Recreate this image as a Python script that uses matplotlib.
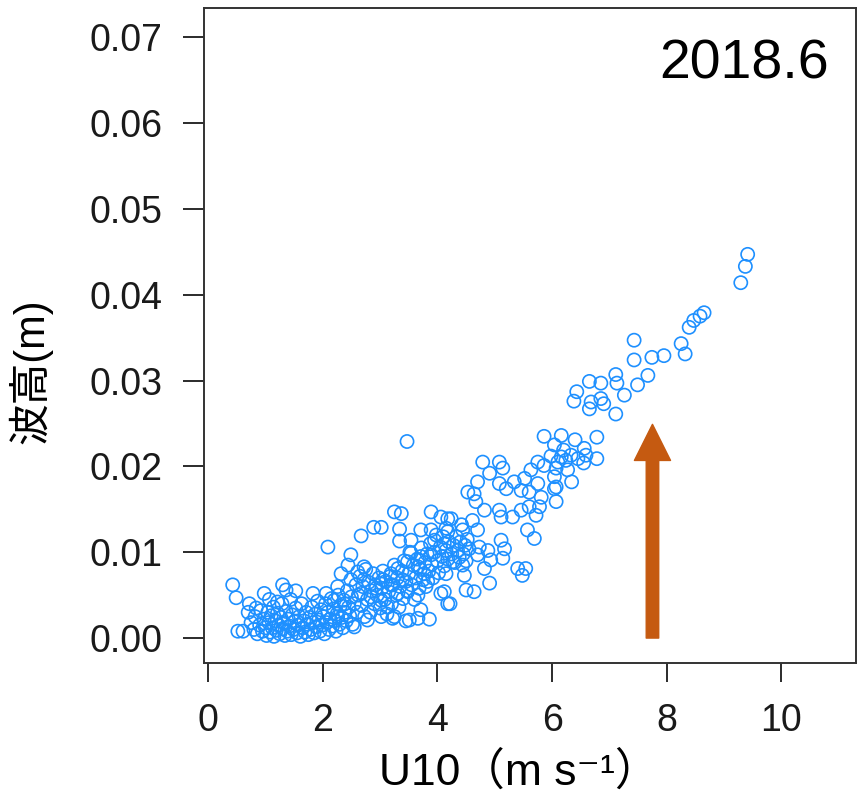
import matplotlib
matplotlib.use("Agg")
import matplotlib.pyplot as plt
import numpy as np

plt.rcParams['font.family'] = ['Liberation Sans', 'Noto Sans CJK JP', 'DejaVu Sans']

# (U10, wave height) pairs
pts_low = [
    (0.43, 0.0062), (0.49, 0.0047), (0.52, 0.0008), (0.61, 0.0008), (0.70, 0.0030),
    (0.72, 0.0040), (0.75, 0.0018), (0.80, 0.0010), (0.82, 0.0025), (0.84, 0.0035),
    (0.86, 0.0005), (0.90, 0.0015), (0.92, 0.0032), (0.95, 0.0008), (0.98, 0.0052),
    (0.98, 0.0022), (1.00, 0.0012), (1.02, 0.0003), (1.04, 0.0030), (1.06, 0.0018),
    (1.07, 0.0045), (1.08, 0.0007), (1.10, 0.0026), (1.12, 0.0012), (1.14, 0.0036),
    (1.15, 0.0002), (1.17, 0.0020), (1.19, 0.0009), (1.21, 0.0042), (1.21, 0.0029),
    (1.23, 0.0015), (1.25, 0.0005), (1.27, 0.0024), (1.29, 0.0040), (1.30, 0.0062),
    (1.30, 0.0011), (1.32, 0.0018), (1.34, 0.0003), (1.36, 0.0056), (1.36, 0.0031),
    (1.38, 0.0008), (1.40, 0.0022), (1.42, 0.0014), (1.44, 0.0045), (1.45, 0.0004),
    (1.47, 0.0027), (1.49, 0.0010), (1.51, 0.0019), (1.53, 0.0055), (1.53, 0.0035),
    (1.55, 0.0006), (1.57, 0.0015), (1.59, 0.0025), (1.61, 0.0002), (1.63, 0.0040),
    (1.65, 0.0012), (1.67, 0.0020), (1.69, 0.0007), (1.71, 0.0030), (1.73, 0.0016),
    (1.75, 0.0004), (1.77, 0.0024), (1.79, 0.0010), (1.81, 0.0036), (1.83, 0.0052),
    (1.83, 0.0018), (1.85, 0.0006), (1.87, 0.0028), (1.89, 0.0013), (1.91, 0.0043),
    (1.93, 0.0021), (1.95, 0.0008), (1.97, 0.0033), (1.99, 0.0015), (2.01, 0.0025),
    (2.03, 0.0005), (2.05, 0.0040), (2.06, 0.0052), (2.07, 0.0018), (2.09, 0.0106),
    (2.09, 0.0030), (2.11, 0.0010), (2.13, 0.0022), (2.15, 0.0046), (2.17, 0.0014),
    (2.19, 0.0034), (2.20, 0.0044), (2.21, 0.0020), (2.23, 0.0008), (2.25, 0.0028),
    (2.26, 0.0060), (2.26, 0.0025), (2.27, 0.0050), (2.29, 0.0016), (2.31, 0.0038),
    (2.32, 0.0075), (2.33, 0.0024), (2.35, 0.0012), (2.37, 0.0044), (2.38, 0.0040),
    (2.39, 0.0030), (2.41, 0.0020), (2.43, 0.0055), (2.44, 0.0085), (2.45, 0.0036),
    (2.47, 0.0026), (2.49, 0.0097), (2.49, 0.0068), (2.50, 0.0048), (2.52, 0.0016),
    (2.55, 0.0013), (2.55, 0.0040), (2.58, 0.0062), (2.60, 0.0030),
]

pts_mid = [
    (2.61, 0.0077), (2.62, 0.0050), (2.65, 0.0072), (2.67, 0.0119), (2.67, 0.0052),
    (2.68, 0.0038), (2.70, 0.0060), (2.72, 0.0083), (2.72, 0.0068), (2.73, 0.0025),
    (2.75, 0.0080), (2.78, 0.0021), (2.78, 0.0045), (2.80, 0.0065), (2.83, 0.0030),
    (2.84, 0.0048), (2.85, 0.0055), (2.89, 0.0129), (2.88, 0.0075), (2.90, 0.0040),
    (2.92, 0.0062), (2.93, 0.0058), (2.95, 0.0050), (2.98, 0.0070), (3.00, 0.0035),
    (3.02, 0.0129), (3.02, 0.0044), (3.02, 0.0025), (3.03, 0.0058), (3.05, 0.0068),
    (3.05, 0.0078), (3.08, 0.0045), (3.10, 0.0066), (3.12, 0.0028), (3.13, 0.0036),
    (3.15, 0.0054), (3.18, 0.0072), (3.19, 0.0075), (3.19, 0.0062), (3.20, 0.0040),
    (3.22, 0.0023), (3.22, 0.0062), (3.25, 0.0085), (3.25, 0.0147), (3.25, 0.0025),
    (3.28, 0.0050), (3.30, 0.0070), (3.31, 0.0081), (3.31, 0.0052), (3.33, 0.0036),
    (3.34, 0.0127), (3.34, 0.0113), (3.35, 0.0060), (3.37, 0.0145), (3.38, 0.0078),
    (3.39, 0.0068), (3.40, 0.0046), (3.42, 0.0090), (3.45, 0.0066), (3.45, 0.0020),
    (3.47, 0.0229), (3.48, 0.0055), (3.48, 0.0089), (3.48, 0.0054), (3.50, 0.0075),
    (3.51, 0.0021), (3.52, 0.0100), (3.54, 0.0114), (3.54, 0.0099), (3.55, 0.0062),
    (3.58, 0.0085), (3.60, 0.0045), (3.62, 0.0070), (3.65, 0.0092), (3.66, 0.0083),
    (3.66, 0.0050), (3.66, 0.0023), (3.68, 0.0058), (3.70, 0.0080), (3.71, 0.0126),
    (3.71, 0.0095), (3.71, 0.0033), (3.72, 0.0105), (3.75, 0.0068), (3.77, 0.0075),
    (3.78, 0.0088), (3.80, 0.0060), (3.82, 0.0098), (3.83, 0.0066), (3.85, 0.0078),
    (3.86, 0.0022), (3.88, 0.0110), (3.89, 0.0147), (3.89, 0.0126), (3.89, 0.0097),
    (3.90, 0.0086), (3.92, 0.0070), (3.95, 0.0114), (3.95, 0.0100), (3.98, 0.0120),
    (4.00, 0.0090), (4.02, 0.0076), (4.05, 0.0106), (4.06, 0.0141), (4.06, 0.0052),
    (4.08, 0.0095), (4.10, 0.0118), (4.12, 0.0110), (4.12, 0.0084), (4.12, 0.0054),
    (4.15, 0.0128), (4.15, 0.0102), (4.15, 0.0075), (4.18, 0.0139), (4.18, 0.0092),
    (4.18, 0.0124), (4.18, 0.0040), (4.20, 0.0112), (4.22, 0.0040), (4.24, 0.0139),
    (4.25, 0.0098), (4.27, 0.0089), (4.28, 0.0108), (4.30, 0.0088), (4.33, 0.0118),
    (4.35, 0.0102), (4.38, 0.0094), (4.40, 0.0112), (4.42, 0.0132), (4.44, 0.0126),
    (4.44, 0.0085), (4.45, 0.0098), (4.47, 0.0073), (4.48, 0.0108), (4.50, 0.0056),
    (4.50, 0.0090), (4.52, 0.0115), (4.53, 0.0170), (4.55, 0.0104), (4.61, 0.0137),
]

pts_high = [
    (4.64, 0.0168), (4.64, 0.0054), (4.67, 0.0159), (4.70, 0.0182), (4.70, 0.0126),
    (4.70, 0.0097), (4.73, 0.0106), (4.79, 0.0205), (4.82, 0.0149), (4.82, 0.0081),
    (4.88, 0.0102), (4.91, 0.0192), (4.91, 0.0064), (4.93, 0.0091), (5.08, 0.0205),
    (5.08, 0.0180), (5.08, 0.0149), (5.11, 0.0141), (5.11, 0.0114), (5.14, 0.0198),
    (5.14, 0.0093), (5.17, 0.0104), (5.20, 0.0174), (5.31, 0.0141), (5.34, 0.0182),
    (5.40, 0.0081), (5.46, 0.0172), (5.46, 0.0149), (5.48, 0.0073), (5.52, 0.0186),
    (5.54, 0.0081), (5.57, 0.0126), (5.60, 0.0170), (5.60, 0.0153), (5.63, 0.0196),
    (5.69, 0.0116), (5.72, 0.0143), (5.75, 0.0205), (5.75, 0.0180), (5.78, 0.0153),
    (5.81, 0.0164), (5.86, 0.0235), (5.86, 0.0201), (5.98, 0.0212), (6.04, 0.0225),
    (6.04, 0.0188), (6.04, 0.0174), (6.07, 0.0198), (6.07, 0.0176), (6.07, 0.0159),
    (6.10, 0.0205), (6.16, 0.0236), (6.16, 0.0211), (6.20, 0.0219), (6.24, 0.0207),
    (6.27, 0.0196), (6.33, 0.0213), (6.34, 0.0182), (6.38, 0.0276), (6.40, 0.0231),
    (6.43, 0.0287), (6.45, 0.0209), (6.55, 0.0204), (6.56, 0.0221), (6.59, 0.0213),
    (6.65, 0.0299), (6.65, 0.0267), (6.68, 0.0275), (6.78, 0.0234), (6.78, 0.0209),
    (6.85, 0.0297), (6.85, 0.0279), (6.90, 0.0273), (7.11, 0.0307), (7.11, 0.0261),
    (7.13, 0.0297), (7.26, 0.0283), (7.43, 0.0347), (7.43, 0.0324), (7.49, 0.0295),
    (7.67, 0.0306), (7.74, 0.0327), (7.95, 0.0329), (8.25, 0.0343), (8.32, 0.0331),
    (8.39, 0.0362), (8.47, 0.0370), (8.58, 0.0375), (8.65, 0.0379), (9.29, 0.0414),
    (9.37, 0.0433), (9.41, 0.0447),
]

u10 = [p[0] for p in pts_low + pts_mid + pts_high]
wave = [p[1] for p in pts_low + pts_mid + pts_high]

xticks = [0, 2, 4, 6, 8, 10]
yticks = [0.00, 0.01, 0.02, 0.03, 0.04, 0.05, 0.06, 0.07]
arrow_x = 7.75
arrow_y = (0.0, 0.0249)

fig = plt.figure(figsize=(8.66, 8.08), dpi=100)
# axes box: 204..856 px across, 8..663 px down
ax = fig.add_axes([0.2356, 0.1795, 0.7529, 0.8106])

ax.scatter(u10, wave, s=90, facecolors='none', edgecolors='#1E90FF', linewidths=1.2)

ax.annotate('', xy=(arrow_x, arrow_y[1]), xytext=(arrow_x, arrow_y[0]),
            arrowprops=dict(arrowstyle='simple,head_width=2.6,head_length=2.6,tail_width=0.9',
                            mutation_scale=10, color='#C55A11', shrinkA=0, shrinkB=0))

ax.set_xlim(-0.07, 11.3)
ax.set_ylim(-0.0029, 0.0734)
ax.set_xticks(xticks)
ax.set_xticklabels([str(t) for t in xticks])
ax.set_yticks(yticks)
ax.set_yticklabels(['%.2f' % t for t in yticks])
ax.tick_params(axis='x', length=14, width=1.3, pad=15, labelsize=27, colors='#1a1a1a')
ax.tick_params(axis='y', length=15, width=1.3, pad=15, labelsize=27, colors='#1a1a1a')
for sp in ax.spines.values():
    sp.set_linewidth(1.4)
    sp.set_color('#333333')

ax.text(0.958, 0.953, '2018.6', transform=ax.transAxes, ha='right', va='top', fontsize=40)

ax.set_xlabel('U10（m s⁻¹）', fontsize=32, labelpad=16)
ax.xaxis.set_label_coords(0.483, -0.135)
ax.set_ylabel('波高(m)', fontsize=30)
ax.yaxis.set_label_coords(-0.232, 0.445)

fig.savefig('out.png', dpi=100)
